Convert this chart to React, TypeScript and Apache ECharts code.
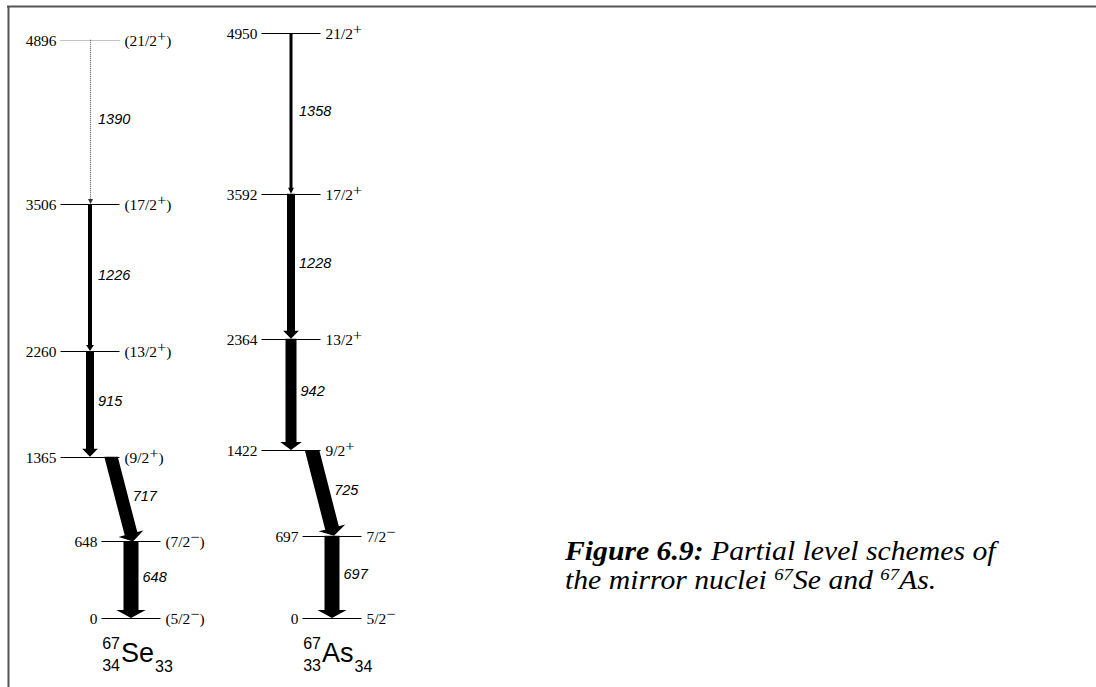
import React, { useEffect, useRef } from "react";
import * as echarts from "echarts";

// ---------- DATA ----------
// 67Se levels (keV), spins, column (0 = upper stack, 1 = lower stack), tentative flag
const seLevelEnergies = [0, 648, 1365, 2260, 3506, 4896];
const seLevelSpins = ["(5/2-)", "(7/2-)", "(9/2+)", "(13/2+)", "(17/2+)", "(21/2+)"];
const seLevelColumn = [1, 1, 0, 0, 0, 0];
const seLevelTentative = [false, false, false, false, false, true];

// 67As levels
const asLevelEnergies = [0, 697, 1422, 2364, 3592, 4950];
const asLevelSpins = ["5/2-", "7/2-", "9/2+", "13/2+", "17/2+", "21/2+"];
const asLevelColumn = [1, 1, 0, 0, 0, 0];
const asLevelTentative = [false, false, false, false, false, false];

// 67Se gamma transitions (keV), relative intensity (arrow width)
const seGammaEnergies = [648, 717, 915, 1226, 1390];
const seGammaFrom = [648, 1365, 2260, 3506, 4896];
const seGammaTo = [0, 648, 1365, 2260, 3506];
const seGammaIntensity = [15, 13, 8, 4, 1];
const seGammaTentative = [false, false, false, false, true];

// 67As gamma transitions
const asGammaEnergies = [697, 725, 942, 1228, 1358];
const asGammaFrom = [697, 1422, 2364, 3592, 4950];
const asGammaTo = [0, 697, 1422, 2364, 3592];
const asGammaIntensity = [15, 14, 11, 8, 3];
const asGammaTentative = [false, false, false, false, false];

// Nuclide labels
const nuclideSymbols = ["Se", "As"];
const nuclideMass = ["67", "67"];
const nuclideZ = ["34", "33"];
const nuclideN = ["33", "34"];

// Caption
const captionBold = "Figure 6.9:";
const captionLine1 = " Partial level schemes of";
const captionLine2Parts = ["the mirror nuclei ", "67", "Se and ", "67", "As."];

// ---------- LAYOUT ----------
const schemeUpperX = [90, 291]; // x-axis units
const lowerShift = 41;
const levelHalf = 29.5;
const slantTopShift = 21;
const slantBottomShift = 2;
const SERIF = "'Liberation Serif', 'Times New Roman', serif";
const SANS = "'Liberation Sans', Arial, sans-serif";
const SX = 1.1;

type Level = { cx: number; energy: number; spin: string; tentative: boolean };
type Gamma = {
  xTop: number; xBot: number; from: number; to: number; energy: number; width: number; tentative: boolean;
};

function buildLevels(s: number, energies: number[], spins: string[], cols: number[], tent: boolean[]): Level[] {
  return energies.map((e, i) => ({
    cx: schemeUpperX[s] + (cols[i] ? lowerShift : 0),
    energy: e,
    spin: spins[i],
    tentative: tent[i],
  }));
}

function buildGammas(
  s: number, energies: number[], from: number[], to: number[], inten: number[], tent: boolean[],
  levE: number[], levCol: number[]
): Gamma[] {
  return energies.map((g, i) => {
    const cFrom = levCol[levE.indexOf(from[i])];
    const cTo = levCol[levE.indexOf(to[i])];
    const base = schemeUpperX[s];
    let xTop = base + (cFrom ? lowerShift : 0);
    let xBot = base + (cTo ? lowerShift : 0);
    if (cFrom !== cTo) {
      xTop = base + slantTopShift;
      xBot = base + lowerShift + slantBottomShift;
    }
    return { xTop, xBot, from: from[i], to: to[i], energy: g, width: inten[i], tentative: tent[i] };
  });
}

const levelRows: Level[] = [
  ...buildLevels(0, seLevelEnergies, seLevelSpins, seLevelColumn, seLevelTentative),
  ...buildLevels(1, asLevelEnergies, asLevelSpins, asLevelColumn, asLevelTentative),
];
const gammaRows: Gamma[] = [
  ...buildGammas(0, seGammaEnergies, seGammaFrom, seGammaTo, seGammaIntensity, seGammaTentative, seLevelEnergies, seLevelColumn),
  ...buildGammas(1, asGammaEnergies, asGammaFrom, asGammaTo, asGammaIntensity, asGammaTentative, asLevelEnergies, asLevelColumn),
];
const nuclideRows = nuclideSymbols.map((sym, i) => ({
  cx: schemeUpperX[i] + lowerShift,
  sym,
  A: nuclideMass[i],
  Z: nuclideZ[i],
  N: nuclideN[i],
}));

function spinRich(s: string): string {
  const m = s.match(/^(\(?)(\d+\/2)([+-])(\)?)$/);
  if (!m) return s;
  const sign = m[3] === "+" ? "+" : "\u2212";
  return `${m[1]}${m[2]}{sup|${sign}}${m[4]}`;
}

export default function App() {
  const ref = useRef<HTMLDivElement>(null);

  useEffect(() => {
    document.body.style.margin = "0";
    document.body.style.background = "#fff";
    if (!ref.current) return;
    const chart = echarts.init(ref.current, null, { renderer: "svg" });

    const levelSeries = {
      type: "custom",
      clip: false,
      silent: true,
      data: levelRows.map((l) => [l.cx, l.energy]),
      renderItem: (params: any, api: any) => {
        const l = levelRows[params.dataIndex];
        const p0 = api.coord([l.cx - levelHalf, l.energy]);
        const p1 = api.coord([l.cx + levelHalf, l.energy]);
        const y = Math.round(p0[1]) + 0.5;
        return {
          type: "group",
          children: [
            {
              type: "line",
              shape: { x1: p0[0], y1: y, x2: p1[0], y2: y },
              style: {
                stroke: l.tentative ? "#888" : "#000",
                lineWidth: 1,
                lineDash: l.tentative ? [1, 1] : null,
              },
            },
            {
              type: "text",
              x: p0[0] - 4,
              y: y + 0.5,
              scaleX: SX,
              style: {
                text: String(l.energy),
                align: "right",
                verticalAlign: "middle",
                fontFamily: SERIF,
                fontSize: 14,
                fill: "#000",
              },
            },
            {
              type: "text",
              x: p1[0] + 5,
              y: y + 0.5,
              scaleX: SX,
              style: {
                text: spinRich(l.spin),
                align: "left",
                verticalAlign: "middle",
                fontFamily: SERIF,
                fontSize: 14,
                lineHeight: 20,
                fill: "#000",
                rich: {
                  sup: {
                    fontFamily: SERIF,
                    fontSize: 15,
                    lineHeight: 15,
                    padding: [0, 0, 11, 0],
                    fill: "#000",
                  },
                },
              },
            },
          ],
        };
      },
    };

    const gammaSeries = {
      type: "custom",
      clip: false,
      silent: true,
      data: gammaRows.map((g) => [g.xTop, g.from, g.xBot, g.to]),
      renderItem: (params: any, api: any) => {
        const g = gammaRows[params.dataIndex];
        const top = api.coord([g.xTop, g.from]);
        const bot = api.coord([g.xBot, g.to]);
        const dx = bot[0] - top[0];
        const dy = bot[1] - top[1];
        const len = Math.hypot(dx, dy);
        const ux = dx / len;
        const uy = dy / len;
        const nx = -uy;
        const ny = ux;
        const w = g.width;
        const headLen = g.tentative ? 5 : w >= 8 ? 8 : 6;
        const hw = Math.max(w * 0.98, 2.5);
        const bx = bot[0] - ux * headLen;
        const by = bot[1] - uy * headLen;
        const children: any[] = [];
        if (g.tentative) {
          children.push({
            type: "line",
            shape: { x1: top[0] + 0.5, y1: top[1], x2: bx + 0.5, y2: by },
            style: { stroke: "#555", lineWidth: 1, lineDash: [1, 1] },
          });
          children.push({
            type: "polygon",
            shape: {
              points: [
                [bx + 0.5 + nx * hw, by + ny * hw],
                [bot[0] + 0.5, bot[1]],
                [bx + 0.5 - nx * hw, by - ny * hw],
              ],
            },
            style: { fill: "#333" },
          });
        } else {
          const h = w / 2;
          const th = h / uy; // horizontal half-width at the (horizontal) top cut
          children.push({
            type: "polygon",
            shape: {
              points: [
                [top[0] - th, top[1]],
                [bx + nx * h, by + ny * h],
                [bx + nx * hw, by + ny * hw],
                [bot[0], bot[1]],
                [bx - nx * hw, by - ny * hw],
                [bx - nx * h, by - ny * h],
                [top[0] + th, top[1]],
              ],
            },
            style: { fill: "#000" },
          });
        }
        const mx = (top[0] + bot[0]) / 2;
        const my = (top[1] + bot[1]) / 2;
        children.push({
          type: "text",
          x: mx + Math.max(w / 2 / uy + 4, 8),
          y: my - 3,
          style: {
            text: String(g.energy),
            align: "left",
            verticalAlign: "middle",
            fontFamily: SANS,
            fontStyle: "italic",
            fontSize: 14.5,
            fill: "#000",
          },
        });
        return { type: "group", children };
      },
    };

    const nuclideSeries = {
      type: "custom",
      clip: false,
      silent: true,
      data: nuclideRows.map((n) => [n.cx, 0]),
      renderItem: (params: any, api: any) => {
        const n = nuclideRows[params.dataIndex];
        const p = api.coord([n.cx, 0]);
        const x0 = p[0] - 10;
        return {
          type: "group",
          children: [
            {
              type: "text",
              x: x0 - 1,
              y: p[1] + 25,
              style: {
                text: n.A, align: "right", verticalAlign: "middle",
                fontFamily: SANS, fontSize: 16, fill: "#000",
              },
            },
            {
              type: "text",
              x: x0 - 1,
              y: p[1] + 47,
              style: {
                text: n.Z, align: "right", verticalAlign: "middle",
                fontFamily: SANS, fontSize: 16, fill: "#000",
              },
            },
            {
              type: "text",
              x: x0,
              y: p[1] + 35,
              style: {
                text: `{sym|${n.sym}}{sub|${n.N}}`,
                align: "left",
                verticalAlign: "middle",
                fill: "#000",
                rich: {
                  sym: { fontFamily: SANS, fontSize: 27, lineHeight: 30, fill: "#000" },
                  sub: {
                    fontFamily: SANS, fontSize: 16, lineHeight: 16,
                    padding: [26, 0, 0, 1], fill: "#000",
                  },
                },
              },
            },
          ],
        };
      },
    };

    const captionText =
      `{b|${captionBold}}${captionLine1}\n` +
      `${captionLine2Parts[0]}{s|${captionLine2Parts[1]}}${captionLine2Parts[2]}{s|${captionLine2Parts[3]}}${captionLine2Parts[4]}`;

    const option: any = {
      animation: false,
      backgroundColor: "#fff",
      grid: { left: 0, right: 0, top: 27.5, bottom: 69 },
      xAxis: { type: "value", min: 0, max: 1096, show: false },
      yAxis: { type: "value", min: 0, max: 5000, show: false },
      series: [levelSeries, gammaSeries, nuclideSeries],
      graphic: [
        {
          type: "line",
          silent: true,
          shape: { x1: 7, y1: 6.5, x2: 1096, y2: 6.5 },
          style: { stroke: "#555", lineWidth: 2 },
        },
        {
          type: "line",
          silent: true,
          shape: { x1: 8.5, y1: 6, x2: 8.5, y2: 687 },
          style: { stroke: "#555", lineWidth: 2 },
        },
        {
          type: "text",
          silent: true,
          x: 565,
          y: 536,
          scaleX: 1.1,
          style: {
            text: captionText,
            align: "left",
            verticalAlign: "top",
            fontFamily: SERIF,
            fontStyle: "italic",
            fontSize: 27,
            lineHeight: 29,
            fill: "#000",
            rich: {
              b: {
                fontFamily: SERIF, fontStyle: "italic", fontWeight: "bold",
                fontSize: 27, lineHeight: 29, fill: "#000",
              },
              s: {
                fontFamily: SERIF, fontStyle: "italic", fontSize: 17,
                lineHeight: 17, padding: [0, 0, 11, 0], fill: "#000",
              },
            },
          },
        },
      ],
    };

    chart.setOption(option);
    return () => {
      chart.dispose();
    };
  }, []);

  return <div ref={ref} style={{ width: 1096, height: 687, background: "#fff" }} />;
}
